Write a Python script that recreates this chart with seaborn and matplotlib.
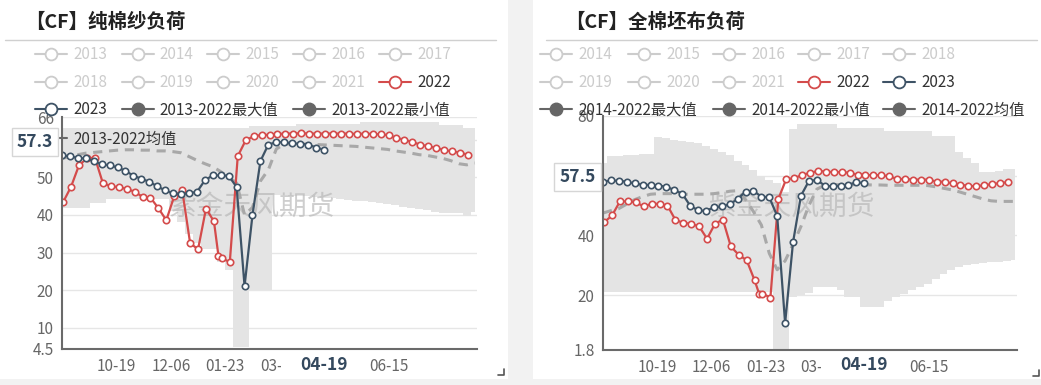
import numpy as np
import pandas as pd
import matplotlib
matplotlib.use("Agg")
import matplotlib.pyplot as plt
import matplotlib.dates as mdates
import matplotlib.transforms as mtransforms
import seaborn as sns
from matplotlib.lines import Line2D
from matplotlib.patches import Rectangle

# ---------------- data ----------------
# one season Sep -> Aug, drawn on 2019-09 .. 2020-08 (leap year like the source axis)
week_start = "2019-09-01"      # weekly grid of the band / mean and of 2023
start_2022 = "2019-09-02"
extra_2022 = "2020-01-17"      # extra reading before spring festival
x_ticks = ["10-19", "12-06", "01-23", "03-11", "04-28", "06-15"]
latest = "04-19"

yarn_title = "【CF】纯棉纱负荷"
yarn_2022 = [43.4, 47.5, 53.2, 55.0, 55.2, 48.5, 47.6, 47.4, 46.9, 46.2,
             44.8, 44.6, 41.8, 38.6, 45.0, 46.6, 32.5, 30.9, 41.7, 38.3,
             29.1, 28.5, 27.5, 55.6, 59.8, 60.9, 61.2, 61.3, 61.5, 61.6,
             61.6, 61.7, 61.6, 61.6, 61.6, 61.6, 61.6, 61.6, 61.5, 61.6,
             61.5, 61.4, 61.2, 60.4, 60.0, 59.3, 58.7, 58.2, 57.8, 57.2,
             56.9, 56.5, 56.0]
yarn_2023 = [55.8, 55.6, 55.1, 55.0, 54.3, 53.4, 53.2, 52.6, 51.7, 50.4,
             49.6, 48.8, 47.6, 46.5, 45.7, 45.5, 45.8, 46.1, 49.2, 50.5,
             50.5, 50.4, 47.4, 21.1, 40.0, 54.3, 58.7, 59.3, 59.3, 59.0,
             58.9, 58.7, 57.9, 57.3]
yarn_max = [63.1] * 24 + [63.5] * 6 + [64.2] * 8 + [64.6] * 10 + [64.0] * 3 + [63.0] * 2
yarn_min = [41.8, 41.8, 41.8, 41.8, 43.1, 43.1, 44.3, 44.3, 44.3, 44.3,
            44.3, 44.3, 44.3, 44.3, 41.0, 38.0, 35.0, 32.5, 31.0, 31.0,
            27.5, 25.3, 5.0, 5.0, 20.0, 20.0, 20.0, 45.2, 45.2, 45.0,
            45.0, 44.9, 44.8, 44.6, 44.4, 44.2, 44.0, 43.8, 43.6, 43.4,
            43.2, 43.0, 42.6, 42.2, 41.8, 41.5, 41.2, 40.9, 40.6, 40.4,
            40.4, 39.6, 40.8]
yarn_mean = [55.0, 55.5, 56.0, 56.4, 56.6, 56.8, 57.0, 57.2, 57.3, 57.3,
             57.2, 57.2, 57.0, 57.0, 56.8, 56.5, 55.5, 54.5, 53.6, 52.8,
             51.5, 50.0, 48.5, 40.0, 42.0, 49.0, 52.0, 57.5, 58.8, 58.9,
             58.9, 58.8, 58.7, 58.6, 58.5, 58.4, 58.3, 58.2, 58.0, 57.8,
             57.6, 57.4, 57.0, 56.7, 56.4, 56.0, 55.8, 55.4, 55.0, 54.4,
             53.6, 53.3, 53.8]
yarn_last = "57.3"

cloth_title = "【CF】全棉坯布负荷"
cloth_2022 = [44.4, 46.7, 51.4, 51.4, 51.1, 49.7, 50.6, 50.6, 50.0, 45.2,
              44.2, 43.9, 43.0, 38.9, 43.9, 45.3, 36.3, 33.5, 31.7, 25.0,
              20.5, 20.5, 19.2, 52.2, 58.9, 59.1, 60.3, 60.9, 61.6, 61.4,
              61.2, 61.2, 61.0, 60.3, 60.2, 60.2, 60.2, 59.8, 58.9, 58.9,
              58.7, 58.7, 58.7, 58.0, 58.0, 57.4, 56.9, 56.7, 56.4, 56.9,
              57.1, 57.6, 57.8]
cloth_2023 = [58.0, 58.4, 58.3, 58.0, 57.4, 57.0, 56.9, 56.7, 56.3, 55.2,
              54.0, 50.0, 48.4, 48.2, 49.4, 49.7, 50.4, 52.2, 54.7, 54.9,
              53.0, 52.8, 46.5, 10.6, 37.7, 53.3, 58.2, 58.6, 56.7, 56.4,
              56.7, 57.0, 57.8, 57.5]
cloth_max = [64.4, 66.7, 66.7, 66.9, 67.0, 67.2, 67.4, 72.8, 72.5, 72.0,
             71.5, 71.2, 71.0, 70.0, 69.0, 68.0, 66.8, 65.0, 63.5, 62.0,
             60.0, 58.5, 57.5, 54.5, 75.6, 77.2, 77.2, 77.2, 77.2, 77.2,
             76.1, 76.1, 76.1, 76.1, 76.1, 76.1, 75.0, 75.0, 75.0, 75.0,
             75.0, 75.0, 73.3, 73.3, 73.3, 67.8, 66.0, 64.4, 61.1, 61.1,
             61.5, 62.3, 62.3]
cloth_min = [21.1] * 22 + [1.8, 1.8,
             19.4, 20.0, 20.6, 22.8, 22.8, 22.8, 21.7, 19.4, 19.4, 16.1,
             16.1, 16.1, 18.0, 19.4, 20.5, 21.7, 22.8, 23.9, 25.5, 27.2,
             28.3, 29.4, 30.0, 30.6, 30.8, 31.0, 31.2, 31.4, 31.7]
cloth_mean = [47.5, 48.3, 49.0, 50.5, 52.0, 53.0, 53.8, 54.0, 54.0, 54.0,
              53.8, 53.8, 53.8, 53.8, 54.0, 54.3, 54.8, 55.0, 52.0, 48.0,
              43.5, 34.0, 28.5, 31.5, 37.0, 43.0, 50.0, 55.5, 56.8, 57.0,
              57.0, 57.0, 57.0, 57.0, 56.9, 56.9, 56.8, 56.8, 56.8, 56.8,
              56.8, 56.7, 56.3, 55.8, 55.3, 54.6, 53.8, 53.0, 52.2, 51.6,
              51.4, 51.4, 51.4]
cloth_last = "57.5"

off = "off"
yarn_legend = [
    [("2013", off), ("2014", off), ("2015", off), ("2016", off), ("2017", off)],
    [("2018", off), ("2019", off), ("2020", off), ("2021", off), ("2022", "red")],
    [("2023", "dark"), ("2013-2022最大值", "fill"), None, ("2013-2022最小值", "fill")],
]
cloth_legend = [
    [("2014", off), ("2015", off), ("2016", off), ("2017", off), ("2018", off)],
    [("2019", off), ("2020", off), ("2021", off), ("2022", "red"), ("2023", "dark")],
    [("2014-2022最大值", "fill"), None, ("2014-2022最小值", "fill"), None, ("2014-2022均值", "fill")],
]

# ---------------- style ----------------
sns.set_theme(style="white")
plt.rcParams["font.family"] = ["Noto Sans CJK SC", "DejaVu Sans"]

RED = "#d44b4b"
DARK = "#3e5366"
BAND = "#e4e4e4"
MEAN = "#a8a8a8"
AXC = "#6a6a6a"
LBL = "#666666"

W, H = 1041, 385
fig = plt.figure(figsize=(W / 100, H / 100), dpi=100)
fig.patch.set_facecolor("#f2f2f2")


def fx(x):
    return x / W


def fy(y):
    return 1 - y / H


def to_date(md):
    m = int(md[:2])
    return pd.Timestamp(f"{2019 if m >= 9 else 2020}-{md}")


grid = pd.date_range(week_start, periods=53, freq="7D")
dates_2022 = pd.date_range(start_2022, periods=52, freq="7D").append(
    pd.DatetimeIndex([extra_2022])).sort_values()
dates_2023 = grid[:len(yarn_2023)]
tick_dates = [to_date(t) for t in x_ticks]

# white panels
for x0, x1 in [(0, 508), (533, 1041)]:
    fig.add_artist(Rectangle((fx(x0), fy(379)), fx(x1 - x0), 379 / H,
                             transform=fig.transFigure, fc="white", ec="none", zorder=-5))


def legend_item(x, y, label, kind):
    col = {"off": "#cccccc", "red": RED, "dark": DARK, "fill": "#666666"}[kind]
    tcol = "#cccccc" if kind == "off" else "#333333"
    fig.add_artist(Line2D([fx(x), fx(x + 32)], [fy(y)] * 2, transform=fig.transFigure,
                          color=col, lw=1.5, zorder=2))
    if kind == "fill":
        fig.add_artist(Line2D([fx(x + 16)], [fy(y)], transform=fig.transFigure, marker="o",
                              ms=9, mfc=col, mec=col, zorder=2))
    else:
        fig.add_artist(Line2D([fx(x + 16)], [fy(y)], transform=fig.transFigure, marker="o",
                              ms=8.5, mfc="white", mec=col, mew=1.3, zorder=2))
    fig.text(fx(x + 38), fy(y + 1), label, color=tcol, fontsize=11, ha="left", va="center", zorder=2)


def draw_panel(box, title, title_x, sep, legend, cols, v2022, v2023, vmax, vmin, vmean,
               ylim, yticks, ylabels, last, last_x, corner):
    x0, y0, x1, y1 = box
    ax = fig.add_axes([fx(x0), fy(y1), fx(x1 - x0), (y1 - y0) / H])
    ax.set_facecolor("white")

    ax.fill_between(grid, vmin, vmax, step="mid", color=BAND, lw=0, zorder=1)
    ax.text(0.458, 0.612, "紫金天风期货", transform=ax.transAxes, fontsize=20,
            color="#b5b5b5", alpha=0.65, ha="center", va="center", zorder=1.5)
    sns.lineplot(x=grid, y=vmean, ax=ax, color=MEAN, lw=2.2, zorder=2)
    ax.lines[-1].set_dashes((3.0, 2.2))
    sns.lineplot(x=dates_2022, y=v2022, ax=ax, color=RED, lw=1.6, marker="o",
                 markersize=4.6, markerfacecolor="white", markeredgecolor=RED,
                 markeredgewidth=1.2, zorder=3)
    sns.lineplot(x=dates_2023, y=v2023, ax=ax, color=DARK, lw=1.6, marker="o",
                 markersize=4.6, markerfacecolor="white", markeredgecolor=DARK,
                 markeredgewidth=1.2, zorder=4)

    ax.set_xlim(pd.Timestamp("2019-09-01"), pd.Timestamp("2020-09-01"))
    ax.set_ylim(*ylim)
    ax.set_xticks(tick_dates)
    ax.set_xticklabels(x_ticks)
    ax.set_yticks(yticks)
    ax.set_yticklabels(ylabels)
    ax.set_xlabel("")
    ax.set_ylabel("")
    ax.grid(axis="y", color="#e6e6e6", lw=1)
    ax.set_axisbelow(True)
    for s in ["top", "right"]:
        ax.spines[s].set_visible(False)
    for s in ["left", "bottom"]:
        ax.spines[s].set_color(AXC)
        ax.spines[s].set_linewidth(1.5)
        ax.spines[s].set_zorder(5)
    ax.tick_params(axis="both", colors=AXC, labelcolor=LBL, labelsize=11,
                   length=3.5, width=1, direction="out")
    ax.tick_params(axis="x", pad=3.5)
    ax.tick_params(axis="y", pad=2.5)

    # title, separator, legend
    fig.text(fx(title_x), fy(22), title, fontsize=14, fontweight="bold", color="#222222",
             ha="left", va="center")
    fig.add_artist(Line2D([fx(sep[0]), fx(sep[1])], [fy(40)] * 2, transform=fig.transFigure,
                          color="#d0d0d0", lw=1))
    for r, row in enumerate(legend):
        for c, item in enumerate(row):
            if item is not None:
                legend_item(cols[c], [53.5, 81.5, 109][r], *item)

    # latest value tag on the y axis
    tr = mtransforms.blended_transform_factory(fig.transFigure, ax.transData)
    fig.text(fx(last_x), float(last) + 2.1, last, transform=tr, fontsize=12.5,
             fontweight="bold", color="#34495e", ha="center", va="center", zorder=10,
             bbox=dict(boxstyle="square,pad=0.28", fc="white", ec="#d6d6d6", lw=1))

    # highlighted x label for the latest week
    xc = ax.transData.transform((mdates.date2num(to_date(latest)), 0))[0]
    fig.add_artist(Rectangle((fx(xc - 43), fy(379)), fx(86), 25 / H, transform=fig.transFigure,
                             fc="white", ec="none", zorder=9))
    fig.text(fx(xc), fy(365), latest, fontsize=12.5, fontweight="bold", color="#34495e",
             ha="center", va="center", zorder=10)

    cx, cy = corner
    fig.add_artist(Line2D([fx(cx - 6), fx(cx), fx(cx)], [fy(cy), fy(cy), fy(cy - 6)],
                          transform=fig.transFigure, color="#555555", lw=1.2))
    return ax


ax1 = draw_panel((62, 117, 477, 348.7), yarn_title, 25, (5, 496), yarn_legend,
                 [35, 121.7, 207.3, 293.3, 379.3], yarn_2022, yarn_2023,
                 yarn_max, yarn_min, yarn_mean, (4.5, 66),
                 [4.5, 10, 20, 30, 40, 50, 60, 66], ["4.5", "10", "20", "30", "40", "50", "", "66"],
                 yarn_last, 34.7, (504, 375))
legend_item(35, 138.3, "2013-2022均值", "fill")

ax2 = draw_panel((603, 116, 1017, 349.5), cloth_title, 565, (546, 1037), cloth_legend,
                 [540, 628.3, 713.3, 798.3, 883.3], cloth_2022, cloth_2023,
                 cloth_max, cloth_min, cloth_mean, (1.8, 80),
                 [1.8, 20, 40, 60, 80], ["1.8", "20", "40", "", "80"],
                 cloth_last, 577.5, (1039, 376))

fig.savefig("out.png", dpi=100, facecolor=fig.get_facecolor())
